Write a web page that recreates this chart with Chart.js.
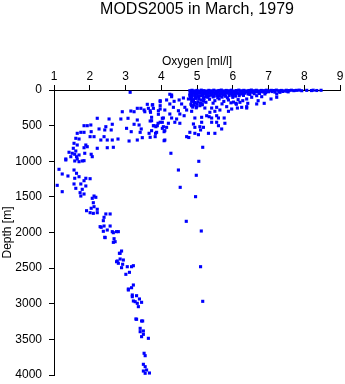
<!DOCTYPE html>
<html>
<head>
<meta charset="utf-8">
<title>MODS2005 in March, 1979</title>
<script src="https://cdn.jsdelivr.net/npm/chart.js@4.4.1/dist/chart.umd.min.js"></script>
<style>
  body { margin: 0; background: #fff; }
  #wrap { width: 345px; height: 384px; }
</style>
</head>
<body>
<div id="wrap"><canvas id="profile"></canvas></div>
<script>
// casts are [oxygen ml/l, depth m]
const oxygenRange = [1, 9];
const depthRange = [0, 4000];

// mixed layer, 0-250 m
const surfaceLayer = [
  [4.80,10],[4.86,4],[4.93,12],[5.00,6],[5.06,14],[5.12,2],[5.19,9],[5.26,15],[5.33,5],[5.40,11],
  [5.47,3],[5.54,13],[5.61,7],[5.68,1],[5.75,12],[5.82,6],[5.89,10],[5.96,3],[6.03,14],[6.10,8],
  [6.17,2],[6.24,11],[6.31,5],[6.38,13],[6.45,7],[6.52,1],[6.59,10],[6.66,4],[6.73,12],[6.80,6],
  [6.87,9],[6.94,3],[7.01,11],[7.08,5],[7.15,8],[7.22,2],[7.29,10],[7.36,6],[7.43,12],[7.50,4],
  [7.57,8],[7.64,3],[7.71,9],[7.78,5],[7.86,2],[7.93,10],[8.07,5],[8.20,8],[8.25,3],[8.35,7],[8.47,4],
  [4.82,28],[4.89,35],[4.96,22],[5.03,38],[5.10,26],[5.17,33],[5.24,20],[5.31,36],[5.38,29],[5.45,24],
  [5.52,39],[5.59,27],[5.66,32],[5.73,21],[5.80,37],[5.87,25],[5.94,34],[6.01,23],[6.08,30],[6.15,38],
  [6.22,26],[6.29,31],[6.36,22],[6.43,36],[6.50,28],[6.57,33],[6.64,24],[6.71,30],[6.78,21],[6.85,27],
  [6.92,35],[7.00,25],[7.10,22],[7.18,30],[7.30,24],[7.40,20],[7.55,26],
  [4.80,55],[4.87,48],[4.94,62],[5.01,52],[5.08,45],[5.15,60],[5.22,50],[5.29,64],[5.36,47],[5.43,57],
  [5.50,53],[5.57,46],[5.64,61],[5.71,49],[5.78,58],[5.85,44],[5.92,55],[5.99,63],[6.06,51],[6.13,47],
  [6.20,59],[6.27,53],[6.34,45],[6.48,62],[6.60,52],[6.75,48],[6.90,56],
  [4.80,78],[4.87,85],[4.95,72],[5.02,88],[5.10,80],[5.17,75],[5.25,90],[5.33,82],[5.40,73],[5.48,86],
  [5.56,77],[5.63,84],[5.72,70],[5.80,88],[5.90,79],[6.00,74],[6.08,86],[6.18,80],[6.30,76],
  [4.85,100],[4.96,105],[5.05,98],[5.18,108],[5.30,102],[5.45,97],[5.58,106],[5.70,100],[5.85,110],[6.00,103],
  [4.82,120],[4.90,135],[4.97,118],[5.05,128],[5.12,140],[5.20,122],[4.85,160],[4.93,175],[5.02,168],
  [5.10,182],[5.18,158],[5.25,172],[4.83,200],[4.92,212],[5.00,195],[5.08,220],[5.15,205],[4.88,240],[4.98,250],
  [5.35,130],[5.50,150],[5.62,125],[5.75,160],[5.88,140],[6.02,170],[6.15,135],[6.28,150],[5.45,185],
  [5.70,195],[5.95,180],[6.10,200],
  [3.13,32],[4.24,60],[4.29,70],[4.29,94],[6.43,56],[6.53,102],[6.67,80],[6.81,94],[7.07,126],
  [7.23,102],[7.23,56],[7.32,32],[7.51,18]
];

// oxycline, 100-1000 m
const oxycline = [
  [3.97,150],[4.15,140],[4.36,159],[4.50,140],[4.62,112],[4.76,126],[3.76,206],[3.97,220],[4.24,196],
  [4.34,243],[4.57,196],[4.66,243],[4.85,220],[4.99,234],[5.13,206],[5.22,253],[5.41,253],[5.55,243],
  [5.64,281],[5.83,234],[5.97,267],[6.13,253],[6.25,243],[6.39,253],[6.09,187],[6.20,173],[3.69,291],
  [3.92,291],[4.10,281],[4.48,291],[4.71,281],[4.85,299],[5.36,313],[5.50,299],[5.88,299],[4.24,337],
  [4.52,337],[4.64,361],[5.27,361],[5.34,375],[5.55,361],[3.73,383],[4.06,393],[4.29,393],[4.43,407],
  [4.94,393],[5.13,383],[5.41,393],[5.60,393],[5.76,393],[3.73,431],[3.97,453],[4.20,467],[4.38,453],
  [4.52,467],[4.90,477],[5.13,453],[5.41,453],[5.55,453],[5.78,467],[3.78,501],[3.85,515],[4.06,515],
  [4.15,524],[5.08,515],[4.94,524],[5.18,524],[5.60,501],[5.69,547],[3.73,571],[3.87,594],[4.10,571],
  [4.80,594],[4.94,608],[5.10,561],[5.32,608],[5.50,608],[5.04,627],[4.71,655],[4.77,667],[3.69,664],
  [3.83,655],[4.10,702],[6.39,126],[6.42,187],[6.39,234],[6.71,150],[6.67,196],[6.88,187],
  [3.61,201],[3.75,211],[3.97,164],[3.33,257],[3.43,257],[3.52,281],[3.64,257],[3.78,257],[3.97,267],
  [2.91,305],[3.15,295],[3.24,305],[3.54,305],[3.70,313],[3.92,341],[4.03,397],[2.21,397],[2.54,407],
  [2.87,407],[3.07,397],[3.33,421],[3.69,435],[3.91,467],[4.03,453],[3.24,481],[3.38,491],[3.80,501],
  [3.89,501],[2.63,481],[1.93,501],[1.84,501],[2.03,491],[2.45,515],[2.26,547],[2.42,561],[2.60,561],
  [3.03,538],[3.16,585],[3.44,547],[3.41,594],[3.66,608],[3.84,608],[4.03,538],[4.08,585],[1.65,608],
  [1.75,594],[1.84,594],[2.04,585],[2.01,655],[2.12,655],[2.40,655],[2.31,702],[2.49,702],[2.63,702],
  [2.79,688],[3.10,716],[3.33,702],[3.47,669],[1.61,678],[1.70,688],[1.56,748],[1.65,772],[1.89,772],
  [1.93,796],[1.84,810],[2.21,818],[2.49,810],[2.66,804],[1.54,818],[1.61,856],[1.51,888],[1.42,874],
  [1.58,902],[1.63,936],[1.70,912],[1.86,888],[2.04,902],[2.07,936],[1.47,936],[1.33,968],[1.58,996],
  [1.70,1006],[1.79,996],[1.65,968],[1.84,992],[1.33,982]
];

// deep water, 1000-4000 m
const deepWater = [
  [1.14,1113],[1.23,1179],[1.39,1207],[1.56,1123],[1.63,1169],[1.58,1239],[1.70,1217],[1.89,1239],
  [2.01,1245],[1.84,1273],[1.56,1319],[1.75,1319],[1.89,1347],[1.09,1338],[1.61,1380],[1.79,1394],
  [1.23,1427],[1.73,1441],[1.84,1460],[1.75,1488],[2.12,1488],[2.17,1506],[2.07,1520],[2.10,1582],
  [2.12,1638],[2.04,1660],[2.21,1674],[1.91,1694],[2.01,1722],[2.10,1731],[2.21,1722],[2.45,1740],
  [2.57,1740],[2.40,1787],[2.38,1834],[2.40,1909],[2.32,1927],[2.29,1918],[2.57,1909],[2.49,1965],
  [2.38,1983],[2.63,1988],[2.75,1988],[2.66,2003],[2.80,1988],[2.42,2067],[2.68,2087],[2.43,2072],
  [2.66,2138],[2.71,2129],[2.89,2260],[2.83,2292],[2.85,2292],[2.85,2372],[2.77,2400],[2.75,2410],
  [2.94,2386],[2.80,2432],[2.92,2446],[3.05,2480],[2.89,2494],[3.17,2480],[3.22,2466],[3.01,2587],
  [3.11,2559],[3.22,2737],[3.17,2775],[3.08,2793],[3.08,2807],[3.31,2887],[3.19,2877],[3.19,2901],
  [3.39,2933],[3.27,2971],[3.33,2994],[3.45,2980],[3.22,2961],[3.36,3041],[3.29,3214],[3.31,3218],
  [3.45,3242],[3.48,3242],[3.41,3345],[3.50,3382],[3.41,3392],[3.50,3429],[3.45,3462],[3.64,3485],
  [3.52,3695],[3.55,3729],[3.50,3850],[3.55,3883],[3.50,3944],[3.59,3930],[3.67,3972],[3.55,3976]
];

// single high-oxygen station
const eastStation = [
  [4.08,712],[5.16,804],[4.27,888],[5.05,1001],[4.48,1123],[4.98,1197],[4.53,1366],[4.96,1497],
  [4.70,1843],[5.12,1979],[5.10,2480],[5.16,2966]
];

const casts = surfaceLayer.concat(oxycline, deepWater, eastStation);

const font = { family: '"Liberation Sans", Arial, sans-serif', size: 12 };

new Chart(document.getElementById('profile'), {
  type: 'scatter',
  data: {
    datasets: [{
      data: casts.map(([x, y]) => ({ x, y })),
      pointStyle: 'rect',
      pointRadius: 2.2,
      pointBackgroundColor: '#0000ff',
      pointBorderColor: '#0000ff',
      pointBorderWidth: 0,
      clip: false
    }]
  },
  options: {
    animation: false,
    responsive: true,
    maintainAspectRatio: false,
    events: [],
    layout: { autoPadding: false, padding: { left: 0, right: 5, top: 0, bottom: 9 } },
    plugins: {
      legend: { display: false },
      tooltip: { enabled: false },
      title: {
        display: true,
        text: 'MODS2005 in March, 1979',
        fullSize: false,
        color: '#000',
        font: { family: font.family, size: 16, weight: 'normal', lineHeight: 1 },
        padding: { top: 2, bottom: 32 }
      }
    },
    scales: {
      x: {
        type: 'linear',
        position: 'top',
        min: oxygenRange[0],
        max: oxygenRange[1],
        afterFit: s => { s.height = 40; s.paddingLeft = 0; s.paddingRight = 0; },
        ticks: { stepSize: 1, color: '#000', font, padding: 1, maxRotation: 0 },
        grid: { drawOnChartArea: false, color: '#000', tickColor: '#000', tickLength: 5 },
        border: { color: '#000', width: 1 },
        title: { display: true, text: 'Oxygen [ml/l]', color: '#000', font, padding: { top: 4, bottom: 0 } }
      },
      y: {
        type: 'linear',
        reverse: true,
        min: depthRange[0],
        max: depthRange[1],
        // label overhang would otherwise shrink the plot at the bottom
        afterFit: s => { s.width = 54; s.paddingTop = 0; s.paddingBottom = 0; },
        ticks: { stepSize: 500, color: '#000', font, padding: 7, callback: v => String(v) },
        grid: { drawOnChartArea: false, color: '#000', tickColor: '#000', tickLength: 5 },
        border: { color: '#000', width: 1 },
        title: { display: true, text: 'Depth [m]', color: '#000', font, padding: { top: 0, bottom: 0 } }
      }
    }
  }
});
</script>
</body>
</html>
